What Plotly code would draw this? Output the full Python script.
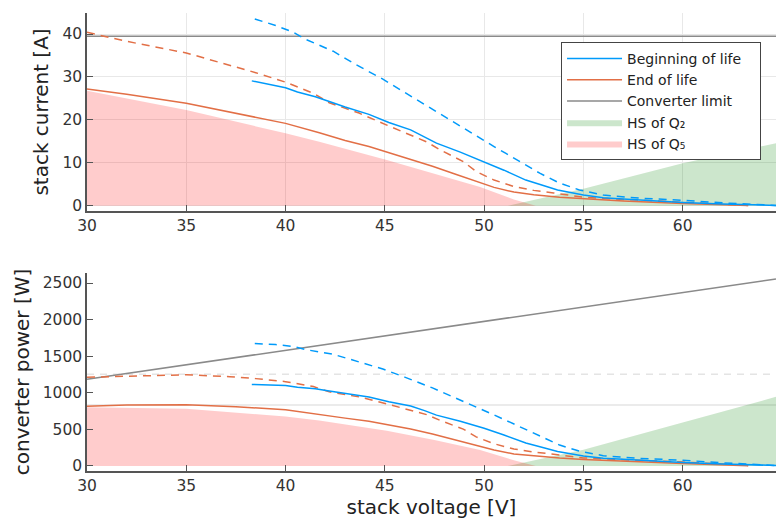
import plotly.graph_objects as go

# ---------------- data ----------------
# Beginning of life, solid
bol_v = [38.3, 39.0, 40.0, 40.6, 41.5, 42.2, 43.0, 44.2, 45.2, 46.3, 47.0, 47.6, 48.8, 50.0,
         51.0, 52.1, 53.0, 53.7, 55.0, 56.0, 57.0, 58.0, 60.0, 62.0, 64.7]
bol_i = [29.1, 28.5, 27.5, 26.5, 25.4, 24.3, 23.0, 21.3, 19.4, 17.7, 16.1, 14.6, 12.5, 10.3,
         8.3, 6.0, 4.7, 3.7, 2.5, 1.9, 1.6, 1.3, 0.8, 0.45, 0.1]
# Beginning of life, dashed
bold_v = [38.45, 39.5, 40.4, 41.0, 42.4, 43.5, 44.9, 46.0, 47.4, 48.5, 49.5, 50.5, 51.1, 52.0,
          52.8, 53.8, 54.8, 56.0, 57.8, 60.0, 62.0, 64.7]
bold_i = [43.5, 42.0, 40.4, 38.8, 36.0, 33.0, 29.5, 26.4, 22.5, 19.3, 16.6, 13.8, 12.2, 9.8,
          7.6, 5.3, 3.7, 2.5, 1.8, 1.3, 0.7, 0.1]
# End of life, solid
eol_v = [30.0, 32.0, 35.0, 37.5, 40.0, 41.7, 43.0, 44.2, 45.1, 46.3, 47.4, 48.6, 49.8, 50.5,
         51.5, 52.5, 53.8, 55.0, 57.0, 60.0, 63.3]
eol_i = [27.2, 26.0, 23.9, 21.6, 19.2, 17.0, 15.2, 13.8, 12.5, 10.9, 9.2, 7.3, 5.3, 4.3,
         3.2, 2.6, 2.0, 1.6, 1.1, 0.55, 0.05]
# End of life, dashed
eold_v = [30.0, 32.0, 35.0, 37.2, 38.5, 40.0, 41.4, 42.2, 43.7, 45.1, 46.3, 47.1, 47.8, 48.95,
          49.6, 50.5, 51.5, 52.5, 53.5, 55.0, 57.0, 60.0, 63.3]
eold_i = [40.4, 38.3, 35.6, 32.8, 31.0, 28.8, 26.2, 24.0, 21.6, 18.8, 16.5, 14.9, 13.0, 10.3,
          8.0, 6.0, 4.5, 3.6, 3.0, 2.0, 1.5, 0.9, 0.1]
# Hot spot regions
hs_q5_v = [30.0, 35.0, 40.0, 41.7, 45.1, 47.5, 49.8, 51.5, 52.6]
hs_q5_i = [26.8, 22.3, 16.9, 14.9, 10.7, 7.5, 4.4, 1.5, 0.0]
hs_q2_v = [51.2, 55.0, 60.0, 64.7]
hs_q2_i = [0.0, 4.0, 9.9, 14.6]
# Converter limit (current)
conv_v = [30.0, 64.7]
conv_i = [39.5, 39.5]
# Reference power levels in the lower panel
p_ref_solid = 832
p_ref_dashed = 1255

x_ticks = [30, 35, 40, 45, 50, 55, 60]
i_ticks = [0, 10, 20, 30, 40]
p_ticks = [0, 500, 1000, 1500, 2000, 2500]


def power(v, i):
    return [a * b for a, b in zip(v, i)]


BLUE = "#009AFA"
RED = "#E26F46"
GRAY = "#8a8a8a"
GREEN_FILL = "rgba(0,128,0,0.2)"
RED_FILL = "rgba(255,0,0,0.2)"
DASH = "8px,6px"
FONT = "DejaVu Sans"
PAD = "\u00a0\u00a0\u00a0"

fig = go.Figure()

for panel, (xa, ya) in enumerate([("x", "y"), ("x2", "y2")]):
    f = (lambda v, i: i) if panel == 0 else power
    show = panel == 0
    fig.add_trace(go.Scatter(x=hs_q2_v, y=f(hs_q2_v, hs_q2_i), mode="lines", fill="tozeroy",
                             fillcolor=GREEN_FILL, line=dict(width=0, color=GREEN_FILL),
                             name="HS of Q₂", legendrank=4, showlegend=show, xaxis=xa, yaxis=ya))
    fig.add_trace(go.Scatter(x=hs_q5_v, y=f(hs_q5_v, hs_q5_i), mode="lines", fill="tozeroy",
                             fillcolor=RED_FILL, line=dict(width=0, color=RED_FILL),
                             name="HS of Q₅", legendrank=5, showlegend=show, xaxis=xa, yaxis=ya))
    fig.add_trace(go.Scatter(x=conv_v, y=f(conv_v, conv_i), mode="lines",
                             line=dict(color=GRAY, width=1.6), name="Converter limit",
                             legendrank=3, showlegend=show, xaxis=xa, yaxis=ya))
    fig.add_trace(go.Scatter(x=eold_v, y=f(eold_v, eold_i), mode="lines",
                             line=dict(color=RED, width=1.5, dash=DASH), showlegend=False,
                             xaxis=xa, yaxis=ya))
    fig.add_trace(go.Scatter(x=bold_v, y=f(bold_v, bold_i), mode="lines",
                             line=dict(color=BLUE, width=1.5, dash=DASH), showlegend=False,
                             xaxis=xa, yaxis=ya))
    fig.add_trace(go.Scatter(x=eol_v, y=f(eol_v, eol_i), mode="lines",
                             line=dict(color=RED, width=1.5), name="End of life",
                             legendrank=2, showlegend=show, xaxis=xa, yaxis=ya))
    fig.add_trace(go.Scatter(x=bol_v, y=f(bol_v, bol_i), mode="lines",
                             line=dict(color=BLUE, width=1.5), name="Beginning of life" + PAD,
                             legendrank=1, showlegend=show, xaxis=xa, yaxis=ya))

fig.add_shape(type="line", xref="x2 domain", x0=0, x1=1, yref="y2", y0=p_ref_solid,
              y1=p_ref_solid, line=dict(color="#e4e4e4", width=1.5), layer="below")
fig.add_shape(type="line", xref="x2 domain", x0=0, x1=1, yref="y2", y0=p_ref_dashed,
              y1=p_ref_dashed, line=dict(color="#e4e4e4", width=1.5, dash="7px,6px"),
              layer="below")

axis_common = dict(showline=True, linecolor="#555555", linewidth=1.5, ticks="inside",
                   ticklen=6, tickcolor="#555555", tickwidth=1,
                   tickfont=dict(family=FONT, size=15.5, color="#333333"),
                   zeroline=False, mirror=False)
title_font = dict(family=FONT, size=20, color="#222222")

fig.update_layout(
    width=776, height=522,
    margin=dict(l=87, r=0, t=13, b=51),
    paper_bgcolor="white", plot_bgcolor="white",
    font=dict(family=FONT, color="#333333"),
    xaxis=dict(domain=[0, 1], anchor="y", range=[30, 64.7], tickvals=x_ticks,
               showgrid=True, gridcolor="#e8e8e8", gridwidth=1, **axis_common),
    yaxis=dict(domain=[0.5677, 1], anchor="x", range=[-1.2, 44.9], tickvals=i_ticks,
               showgrid=True, gridcolor="#e8e8e8", gridwidth=1,
               title=dict(text="stack current [A]", font=title_font, standoff=8),
               **axis_common),
    xaxis2=dict(domain=[0, 1], anchor="y2", range=[30, 64.7], tickvals=x_ticks,
                showgrid=False,
                title=dict(text="stack voltage [V]", font=title_font, standoff=4),
                **axis_common),
    yaxis2=dict(domain=[0, 0.4323], anchor="x2", range=[-69, 2637], tickvals=p_ticks,
                showgrid=False,
                title=dict(text="converter power [W]", font=title_font, standoff=8),
                **axis_common),
    legend=dict(x=0.688, y=0.9367, xanchor="left", yanchor="top",
                bgcolor="white", bordercolor="#444444", borderwidth=1,
                font=dict(family=FONT, size=14, color="#222222"),
                itemwidth=55, tracegroupgap=0),
    showlegend=True,
)

fig.write_html("out.html")
